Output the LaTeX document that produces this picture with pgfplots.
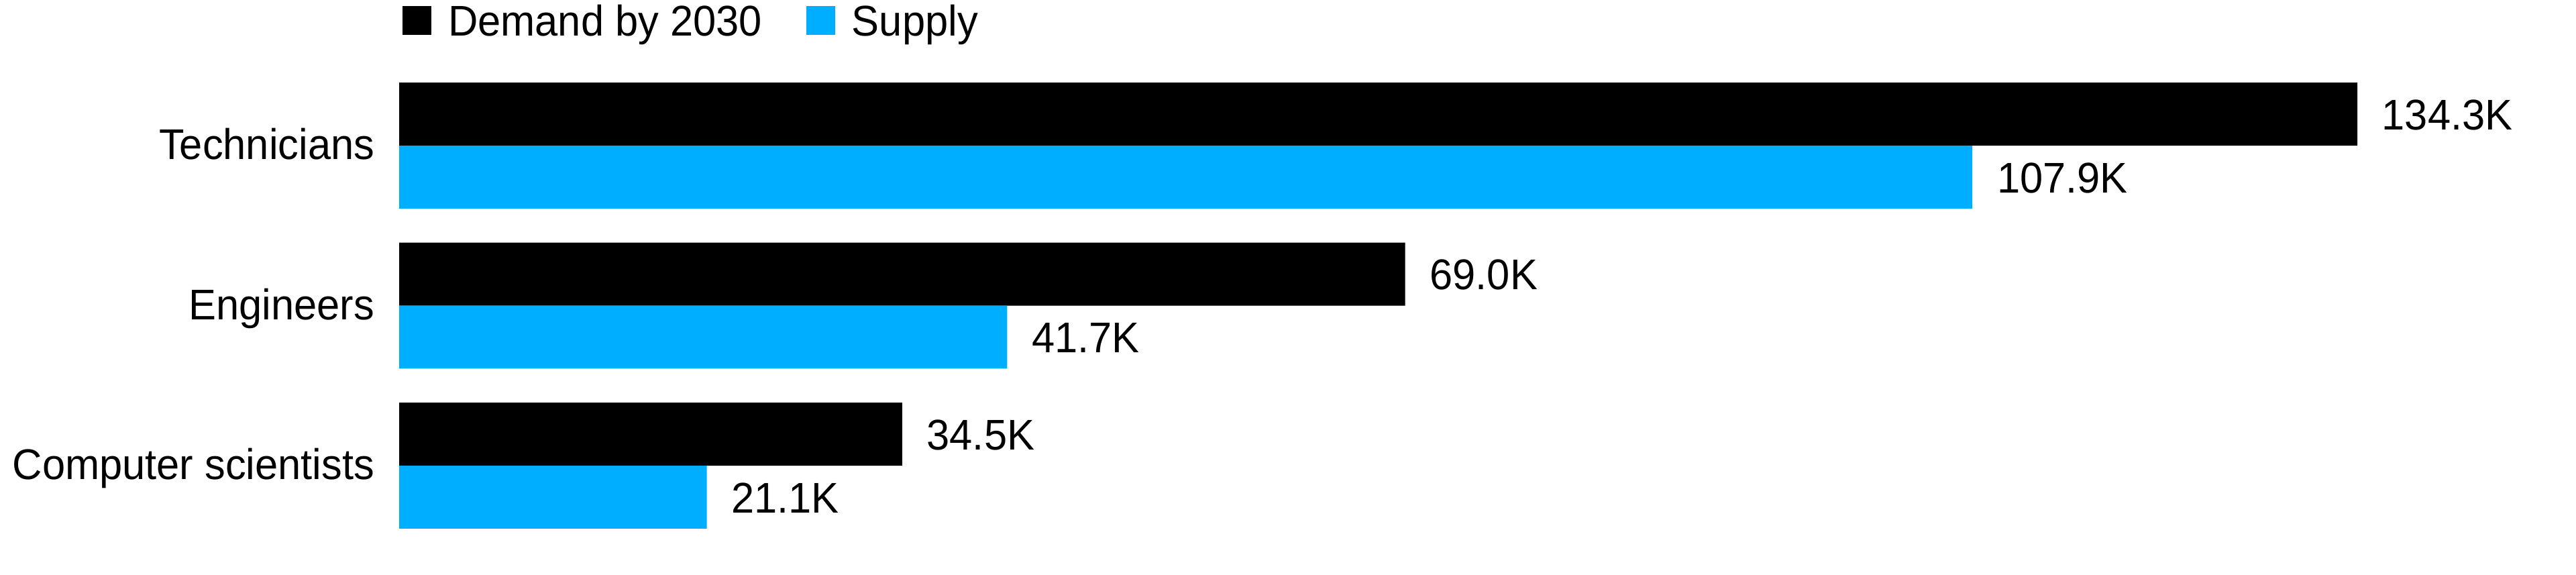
\documentclass[border=0pt]{standalone}
\usepackage{fontspec}
\setmainfont{Liberation Sans}[FakeStretch=0.96]
\usepackage{pgfplots}
\pgfplotsset{compat=1.18}
\definecolor{supplyblue}{HTML}{00AEFF}
\begin{document}
\begin{tikzpicture}
\begin{axis}[
  at={(148.75pt,0pt)}, anchor=south west,
  scale only axis, width=811.25pt, height=214pt,
  xmin=0, xmax=149.3,
  ymin=-0.9099, ymax=2.6793, y dir=reverse,
  clip=false,
  axis line style={draw=none},
  tick style={draw=none},
  xtick=\empty,
  ytick={0,1,2},
  yticklabels={Technicians,Engineers,Computer scientists},
  yticklabel style={anchor=base east, inner sep=0pt, xshift=-9pt, yshift=-5.2pt},
  font=\fontsize{16}{19}\selectfont,
  /pgf/number format/assume math mode=true,
  nodes near coords={\pgfmathprintnumber[fixed,fixed zerofill,precision=1]{\pgfplotspointmeta}K},
  every node near coord/.append style={anchor=base west, inner sep=0pt, xshift=9pt, text=black, font=\fontsize{16}{19}\selectfont},
  legend columns=2,
  legend style={draw=none, fill=none, inner sep=0pt, outer sep=0pt,
    at={(axis cs:0.23,-0.8763)}, anchor=north west,
    cells={anchor=west},
    nodes={inner sep=0pt, text height=11.45pt, text depth=0pt, font=\fontsize{16}{19}\selectfont},
    /tikz/every odd column/.append style={column sep=6.25pt},
    /tikz/every even column/.append style={column sep=16.5pt}},
]
\addplot[xbar, fill=black, draw=none, bar width=0.394, bar shift=-0.197, point meta=x,
  every node near coord/.append style={yshift=6.0pt},
  legend image code/.code={\fill[black] (0pt,-5.375pt) rectangle (10.75pt,5.375pt);}]
  coordinates {(134.3,0) (69.0,1) (34.5,2)};
\addlegendentry{Demand by 2030}
\addplot[xbar, fill=supplyblue, draw=none, bar width=0.394, bar shift=0.197, point meta=x,
  every node near coord/.append style={yshift=-17.5pt},
  legend image code/.code={\fill[supplyblue] (0pt,-5.375pt) rectangle (10.75pt,5.375pt);}]
  coordinates {(107.9,0) (41.7,1) (21.1,2)};
\addlegendentry{Supply}
\end{axis}
\pgfresetboundingbox
\path (0,0) rectangle (960pt,214pt);
\end{tikzpicture}
\end{document}
